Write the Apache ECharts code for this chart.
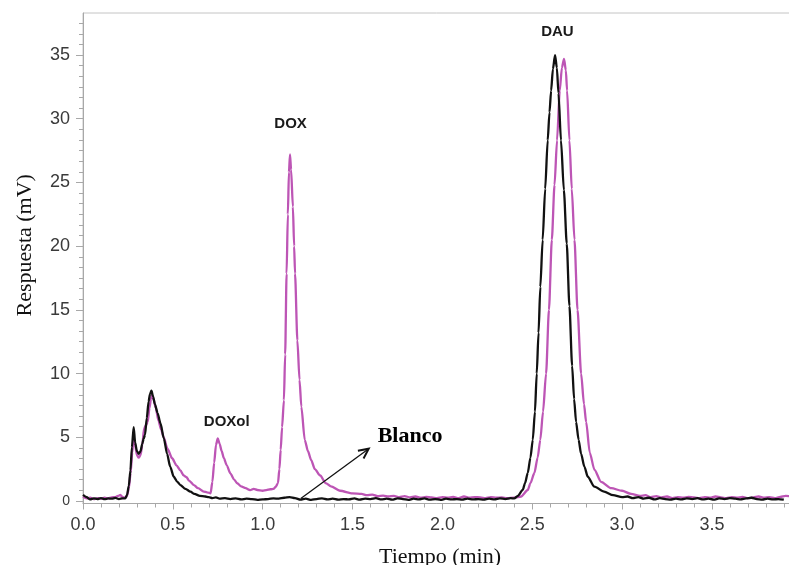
<!DOCTYPE html>
<html><head><meta charset="utf-8">
<script src="https://cdn.jsdelivr.net/npm/echarts@6/dist/echarts.min.js"></script>
<style>html,body{margin:0;padding:0;background:#fff;overflow:hidden}#c{width:789px;height:565px}</style>
</head><body><div id="c"></div>
<script>
// Blanco (black trace): time (min) and response (mV)
const blancoTime = [0.00,0.02,0.04,0.06,0.08,0.10,0.12,0.14,0.16,0.18,0.20,0.22,0.235,0.245,0.255,0.264,0.272,0.282,0.29,0.30,0.31,0.32,0.33,0.338,0.345,0.355,0.365,0.373,0.381,0.39,0.40,0.415,0.431,0.45,0.468,0.485,0.505,0.525,0.542,0.57,0.598,0.62,0.65,0.68,0.70,0.72,0.74,0.76,0.79,0.82,0.85,0.88,0.91,0.94,0.97,1.00,1.03,1.06,1.09,1.12,1.15,1.18,1.21,1.24,1.27,1.30,1.33,1.36,1.39,1.42,1.45,1.48,1.51,1.54,1.57,1.60,1.63,1.66,1.69,1.72,1.75,1.78,1.81,1.84,1.87,1.90,1.93,1.96,1.99,2.02,2.05,2.08,2.11,2.14,2.17,2.20,2.23,2.26,2.29,2.32,2.35,2.38,2.40,2.42,2.447,2.46,2.475,2.49,2.503,2.515,2.525,2.535,2.545,2.558,2.572,2.586,2.596,2.605,2.615,2.627,2.637,2.646,2.66,2.676,2.692,2.707,2.722,2.733,2.744,2.758,2.772,2.79,2.809,2.846,2.90,2.95,3.00,3.03,3.06,3.09,3.12,3.15,3.18,3.21,3.24,3.27,3.30,3.33,3.36,3.39,3.42,3.45,3.48,3.51,3.54,3.57,3.60,3.63,3.66,3.69,3.72,3.75,3.78,3.81,3.84,3.87,3.90,3.94];
const blancoSignal = [0.47,0.30,0.12,0.20,0.15,0.22,0.14,0.20,0.18,0.24,0.15,0.20,0.20,0.45,1.2,2.4,4.2,5.8,4.6,3.9,3.7,3.9,4.5,4.9,5.2,6.5,7.8,8.4,8.65,8.2,7.6,6.9,6.1,4.9,3.7,2.7,1.9,1.5,1.25,0.95,0.73,0.55,0.40,0.35,0.30,0.22,0.28,0.18,0.22,0.15,0.20,0.12,0.18,0.15,0.08,0.12,0.15,0.20,0.18,0.25,0.30,0.22,0.10,0.18,0.08,0.15,0.20,0.12,0.18,0.10,0.15,0.12,0.20,0.10,0.18,0.15,0.22,0.12,0.18,0.10,0.20,0.15,0.08,0.18,0.12,0.20,0.10,0.15,0.08,0.18,0.12,0.15,0.10,0.18,0.12,0.15,0.10,0.18,0.12,0.20,0.15,0.22,0.20,0.40,0.86,1.4,2.2,3.4,4.8,7.0,10.0,13.2,16.8,20.5,24.5,28.3,30.5,32.2,33.9,35.0,34.0,32.0,28.3,24.4,20.2,15.3,10.6,8.0,6.2,4.8,3.7,2.7,1.9,1.12,0.73,0.45,0.30,0.35,0.22,0.30,0.18,0.25,0.12,0.22,0.15,0.10,0.18,0.12,0.20,0.15,0.22,0.12,0.18,0.10,0.20,0.15,0.22,0.18,0.12,0.20,0.25,0.15,0.10,0.18,0.12,0.15,0.10];

// Muestra (magenta trace): time (min) and response (mV)
const muestraTime = [0.00,0.02,0.04,0.06,0.08,0.10,0.12,0.14,0.16,0.18,0.20,0.208,0.22,0.235,0.245,0.255,0.265,0.274,0.282,0.29,0.30,0.31,0.32,0.33,0.34,0.351,0.36,0.37,0.378,0.384,0.392,0.405,0.42,0.435,0.449,0.47,0.496,0.52,0.542,0.56,0.576,0.59,0.617,0.64,0.672,0.69,0.71,0.72,0.73,0.74,0.75,0.76,0.772,0.784,0.80,0.82,0.84,0.858,0.88,0.905,0.93,0.95,0.97,1.00,1.02,1.044,1.06,1.072,1.085,1.093,1.10,1.108,1.118,1.125,1.133,1.14,1.146,1.152,1.158,1.168,1.175,1.18,1.193,1.205,1.215,1.234,1.252,1.27,1.29,1.32,1.35,1.38,1.43,1.50,1.55,1.58,1.61,1.64,1.67,1.70,1.73,1.76,1.79,1.82,1.85,1.88,1.91,1.94,1.97,2.00,2.03,2.06,2.09,2.12,2.15,2.18,2.21,2.24,2.27,2.30,2.33,2.36,2.40,2.438,2.475,2.49,2.512,2.53,2.545,2.56,2.577,2.593,2.609,2.624,2.638,2.653,2.665,2.677,2.687,2.694,2.707,2.72,2.735,2.752,2.772,2.788,2.80,2.82,2.846,2.883,2.94,3.00,3.05,3.10,3.13,3.16,3.19,3.22,3.25,3.28,3.31,3.34,3.37,3.40,3.43,3.46,3.49,3.52,3.55,3.58,3.61,3.64,3.67,3.70,3.73,3.76,3.79,3.82,3.85,3.88,3.91,3.94];
const muestraSignal = [0.35,0.20,0.25,0.15,0.22,0.18,0.25,0.20,0.28,0.30,0.42,0.47,0.30,0.25,0.40,1.0,2.2,3.8,5.0,4.4,3.6,3.4,3.6,4.4,5.7,5.96,6.2,7.3,8.0,8.3,8.0,7.3,6.3,5.6,5.0,4.1,3.35,2.8,2.4,2.0,1.86,1.6,1.25,1.0,0.73,0.68,0.60,1.5,3.0,4.4,4.9,4.5,3.9,3.35,2.8,2.17,1.7,1.39,1.15,1.0,0.85,0.95,0.86,0.80,0.85,0.92,0.95,1.1,1.4,2.5,4.0,5.8,7.9,11.5,17.85,22.5,25.8,27.2,26.0,23.1,20.0,17.85,12.6,9.5,7.4,4.8,3.9,3.2,2.5,2.0,1.4,1.15,0.8,0.6,0.55,0.45,0.50,0.38,0.42,0.35,0.40,0.30,0.38,0.28,0.35,0.25,0.32,0.28,0.22,0.30,0.25,0.32,0.22,0.35,0.25,0.30,0.28,0.22,0.30,0.25,0.28,0.22,0.25,0.35,0.86,1.4,2.2,3.4,4.8,7.0,10.0,15.0,20.5,24.8,28.3,32.2,34.0,34.7,33.8,32.2,28.3,24.5,20.5,15.0,10.0,7.6,6.2,3.8,2.45,1.5,1.0,0.8,0.55,0.40,0.45,0.30,0.38,0.28,0.35,0.22,0.30,0.25,0.32,0.28,0.22,0.30,0.25,0.35,0.28,0.22,0.30,0.25,0.32,0.22,0.28,0.35,0.25,0.30,0.22,0.32,0.40,0.35];

const yMajorTicks = [0,5,10,15,20,25,30,35];
const yMinorTicks = [0.833,1.667,2.5,3.333,4.167,5.833,6.667,7.5,8.333,9.167,10.833,11.667,12.5,13.333,14.167,15.833,16.667,17.5,18.333,19.167,20.833,21.667,22.5,23.333,24.167,25.833,26.667,27.5,28.333,29.167,30.833,31.667,32.5,33.333,34.167,35.833,36.667,37.5];
const peakNames = ['DOXol','DOX','DAU'];
const blancoLabel = 'Blanco';

const zip = (xs, ys) => xs.map((x, i) => [x, ys[i]]);
const chart = echarts.init(document.getElementById('c'), null, {renderer: 'canvas'});
const axisGray = '#a8a8a8';
const tickFont = {fontFamily: 'Liberation Sans, Arial, sans-serif', fontSize: 18, color: '#3a3a3a'};

chart.setOption({
  animation: false,
  backgroundColor: '#fff',
  grid: {left: 83, right: -2, top: 13, bottom: 61.5, show: true, borderColor: '#c4c4c4', borderWidth: 1,
         containLabel: false, outerBoundsMode: 'none'},
  xAxis: {
    type: 'value', min: 0, max: 3.94, interval: 0.5,
    name: 'Tiempo (min)', nameLocation: 'middle', nameGap: 43,
    nameTextStyle: {fontFamily: 'Liberation Serif, Times New Roman, serif', fontSize: 22, color: '#111', padding: [0, 0, 0, 6]},
    axisLine: {show: true, onZero: false, lineStyle: {color: axisGray, width: 1}},
    axisTick: {show: true, length: 6, lineStyle: {color: axisGray}},
    minorTick: {show: true, splitNumber: 5, length: 4, lineStyle: {color: axisGray}},
    splitLine: {show: false},
    axisLabel: Object.assign({margin: 13, showMaxLabel: false, formatter: v => v.toFixed(1)}, tickFont)
  },
  yAxis: [{
    type: 'value', min: -0.2, max: 38.3,
    name: 'Respuesta (mV)', nameLocation: 'middle', nameGap: 47,
    nameTextStyle: {fontFamily: 'Liberation Serif, Times New Roman, serif', fontSize: 22, color: '#111', padding: [0, 0, 0, 26]},
    axisLine: {show: true, onZero: false, lineStyle: {color: axisGray, width: 1}},
    axisTick: {show: true, length: 7, customValues: yMajorTicks, lineStyle: {color: axisGray}},
    splitLine: {show: false},
    axisLabel: Object.assign({
      margin: 13, customValues: yMajorTicks,
      formatter: v => v === 0 ? '{s|0}' : String(v),
      rich: {s: {fontFamily: 'Liberation Sans, Arial, sans-serif', fontSize: 14, color: '#3a3a3a'}}
    }, tickFont)
  }, {
    type: 'value', min: -0.2, max: 38.3, position: 'left',
    axisLine: {show: false},
    axisTick: {show: true, length: 4, customValues: yMinorTicks, lineStyle: {color: axisGray}},
    axisLabel: {show: false}, splitLine: {show: false}
  }],
  series: [{
    name: 'Muestra', type: 'line', data: zip(muestraTime, muestraSignal),
    showSymbol: false, symbol: 'none', smooth: 0.25, smoothMonotone: 'x',
    lineStyle: {color: '#bd55b5', width: 2.3}, z: 2
  }, {
    name: 'Blanco', type: 'line', data: zip(blancoTime, blancoSignal),
    showSymbol: false, symbol: 'none', smooth: 0.25, smoothMonotone: 'x',
    lineStyle: {color: '#111111', width: 2.3}, z: 3
  }]
});

// Annotations positioned from data coordinates
const px = (x, y) => chart.convertToPixel({gridIndex: 0}, [x, y]);
const labelFont = 'bold 15px "Liberation Sans", Arial, sans-serif';
const a0 = px(1.212, 0.2), a1 = px(1.59, 4.1);
const ang = Math.atan2(a1[1] - a0[1], a1[0] - a0[0]);
const hl = 11, spread = 0.45;
const head = [
  [a1[0] - hl * Math.cos(ang - spread), a1[1] - hl * Math.sin(ang - spread)],
  [a1[0], a1[1]],
  [a1[0] - hl * Math.cos(ang + spread), a1[1] - hl * Math.sin(ang + spread)]
];
const p1 = px(0.80, 6.2), p2 = px(1.155, 29.6), p3 = px(2.64, 36.8), pb = px(1.64, 5.1);
chart.setOption({
  graphic: [
    {type: 'text', x: p1[0], y: p1[1], style: {text: peakNames[0], font: labelFont, fill: '#1a1a1a', textAlign: 'center', textVerticalAlign: 'middle'}},
    {type: 'text', x: p2[0], y: p2[1], style: {text: peakNames[1], font: labelFont, fill: '#1a1a1a', textAlign: 'center', textVerticalAlign: 'middle'}},
    {type: 'text', x: p3[0], y: p3[1], style: {text: peakNames[2], font: labelFont, fill: '#1a1a1a', textAlign: 'center', textVerticalAlign: 'middle'}},
    {type: 'text', x: pb[0], y: pb[1], style: {text: blancoLabel, font: 'bold 22px "Liberation Serif", "Times New Roman", serif', fill: '#000', textAlign: 'left', textVerticalAlign: 'middle'}},
    {type: 'line', shape: {x1: a0[0], y1: a0[1], x2: a1[0], y2: a1[1]}, style: {stroke: '#111', lineWidth: 1.3}, z: 10},
    {type: 'polyline', shape: {points: head}, style: {stroke: '#111', lineWidth: 2, fill: null}, z: 10}
  ]
});
</script></body></html>
